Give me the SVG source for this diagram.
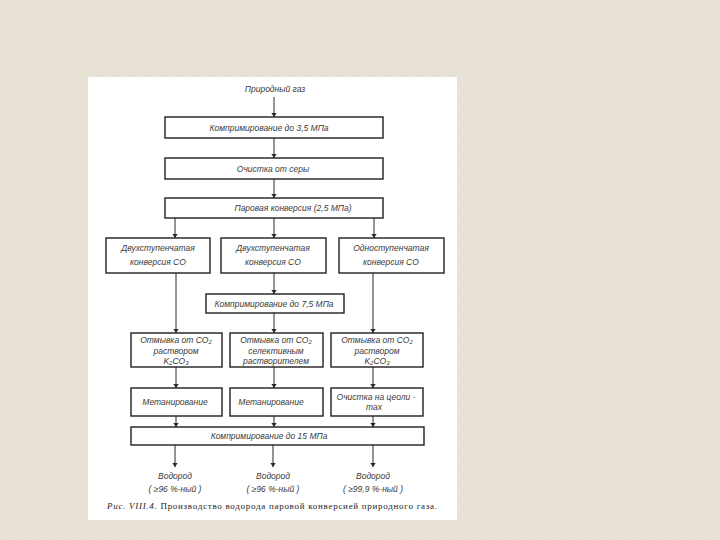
<svg xmlns="http://www.w3.org/2000/svg" width="720" height="540" viewBox="0 0 720 540">
  <defs>
    <pattern id="tex" width="16" height="16" patternUnits="userSpaceOnUse">
      <rect width="16" height="16" fill="#e8e2d6"/>
      <path d="M2 14 L8 8 M10 6 L14 2" stroke="#e0d9cb" stroke-width="1"/>
      <path d="M1 1 L5 5 M9 11 L13 15" stroke="#eee9df" stroke-width="1"/>
    </pattern>
    <marker id="arr" viewBox="0 0 6 10" refX="6" refY="5" markerWidth="4" markerHeight="7" markerUnits="userSpaceOnUse" orient="auto">
      <path d="M0 1 L6 5 L0 9 Z" fill="#2a2a2a"/>
    </marker>
    <style>
      .box { fill: #ffffff; stroke: #1e1e1e; stroke-width: 1.4; }
      .t { font-family: "Liberation Sans", "DejaVu Sans", sans-serif; font-style: italic; font-size: 8.5px; fill: #3a3a3a; text-anchor: middle; }
      .c { stroke: #2a2a2a; stroke-width: 1; fill: none; marker-end: url(#arr); }
      .cap { font-family: "Liberation Serif", "DejaVu Serif", serif; font-size: 9px; fill: #242424; }
    </style>
  </defs>

  <rect width="720" height="540" fill="url(#tex)"/>
  <rect x="88" y="77" width="369" height="443" fill="#ffffff"/>

  <g id="connectors">
    <line class="c" x1="274" y1="97" x2="274" y2="117"/>
    <line class="c" x1="274" y1="138" x2="274" y2="158"/>
    <line class="c" x1="274" y1="179" x2="274" y2="198"/>
    <line class="c" x1="175" y1="218" x2="175" y2="238"/>
    <line class="c" x1="274" y1="218" x2="274" y2="238"/>
    <line class="c" x1="374" y1="218" x2="374" y2="238"/>
    <line class="c" x1="176" y1="273" x2="176" y2="333"/>
    <line class="c" x1="274" y1="273" x2="274" y2="294"/>
    <line class="c" x1="274" y1="313" x2="274" y2="333"/>
    <line class="c" x1="373" y1="273" x2="373" y2="333"/>
    <line class="c" x1="176" y1="367" x2="176" y2="388"/>
    <line class="c" x1="274" y1="367" x2="274" y2="388"/>
    <line class="c" x1="373" y1="367" x2="373" y2="388"/>
    <line class="c" x1="176" y1="416" x2="176" y2="427"/>
    <line class="c" x1="274" y1="416" x2="274" y2="427"/>
    <line class="c" x1="373" y1="416" x2="373" y2="427"/>
    <line class="c" x1="175" y1="445" x2="175" y2="467"/>
    <line class="c" x1="273" y1="445" x2="273" y2="467"/>
    <line class="c" x1="373" y1="445" x2="373" y2="467"/>
  </g>

  <g id="n-gas">
    <text class="t" x="275" y="92">Природный газ</text>
  </g>
  <g id="n-comp35">
    <rect class="box" x="165" y="117" width="218" height="21"/>
    <text class="t" x="269" y="130.5">Компримирование до 3,5 МПа</text>
  </g>
  <g id="n-sulfur">
    <rect class="box" x="165" y="158" width="218" height="21"/>
    <text class="t" x="273" y="171.5">Очистка от серы</text>
  </g>
  <g id="n-steam">
    <rect class="box" x="165" y="198" width="218" height="20"/>
    <text class="t" x="293" y="211">Паровая конверсия (2,5 МПа)</text>
  </g>
  <g id="n-co-a">
    <rect class="box" x="106" y="238" width="104" height="35"/>
    <text class="t" x="158" y="251">Двухступенчатая</text>
    <text class="t" x="158" y="265">конверсия CO</text>
  </g>
  <g id="n-co-b">
    <rect class="box" x="221" y="238" width="105" height="35"/>
    <text class="t" x="273" y="251">Двухступенчатая</text>
    <text class="t" x="273" y="265">конверсия CO</text>
  </g>
  <g id="n-co-c">
    <rect class="box" x="339" y="238" width="105" height="35"/>
    <text class="t" x="391" y="251">Одноступенчатая</text>
    <text class="t" x="391" y="265">конверсия CO</text>
  </g>
  <g id="n-comp75">
    <rect class="box" x="206" y="294" width="138" height="19"/>
    <text class="t" x="274" y="306.5">Компримирование до 7,5 МПа</text>
  </g>
  <g id="n-wash-a">
    <rect class="box" x="131" y="333" width="91" height="34"/>
    <text class="t" x="176" y="342.5">Отмывка от CO<tspan font-size="6" dy="1.5">2</tspan></text>
    <text class="t" x="176" y="353.5">раствором</text>
    <text class="t" x="176" y="363.5">K<tspan font-size="6" dy="1.5">2</tspan><tspan dy="-1.5">CO</tspan><tspan font-size="6" dy="1.5">3</tspan></text>
  </g>
  <g id="n-wash-b">
    <rect class="box" x="230" y="333" width="93" height="34"/>
    <text class="t" x="276" y="342.5">Отмывка от CO<tspan font-size="6" dy="1.5">2</tspan></text>
    <text class="t" x="276" y="353.5">селективным</text>
    <text class="t" x="276" y="363.5">растворителем</text>
  </g>
  <g id="n-wash-c">
    <rect class="box" x="331" y="333" width="92" height="34"/>
    <text class="t" x="377" y="342.5">Отмывка от CO<tspan font-size="6" dy="1.5">2</tspan></text>
    <text class="t" x="377" y="353.5">раствором</text>
    <text class="t" x="377" y="363.5">K<tspan font-size="6" dy="1.5">2</tspan><tspan dy="-1.5">CO</tspan><tspan font-size="6" dy="1.5">3</tspan></text>
  </g>
  <g id="n-meth-a">
    <rect class="box" x="131" y="388" width="91" height="28"/>
    <text class="t" x="175" y="405">Метанирование</text>
  </g>
  <g id="n-meth-b">
    <rect class="box" x="230" y="388" width="93" height="28"/>
    <text class="t" x="271" y="405">Метанирование</text>
  </g>
  <g id="n-zeol">
    <rect class="box" x="331" y="388" width="92" height="28"/>
    <text class="t" x="376" y="399.5">Очистка на цеоли -</text>
    <text class="t" x="374" y="410">тах</text>
  </g>
  <g id="n-comp15">
    <rect class="box" x="131" y="427" width="293" height="18"/>
    <text class="t" x="269" y="439">Компримирование до 15 МПа</text>
  </g>
  <g id="n-h2-a">
    <text class="t" x="175" y="479">Водород</text>
    <text class="t" x="175" y="492">( ≥96 %-ный )</text>
  </g>
  <g id="n-h2-b">
    <text class="t" x="273" y="479">Водород</text>
    <text class="t" x="273" y="492">( ≥96 %-ный )</text>
  </g>
  <g id="n-h2-c">
    <text class="t" x="373" y="479">Водород</text>
    <text class="t" x="373" y="492">( ≥99,9 %-ный )</text>
  </g>
  <g id="caption">
    <text class="cap" x="107" y="509" textLength="330" lengthAdjust="spacing"><tspan font-style="italic">Рис. VIII.4.</tspan> Производство водорода паровой конверсией природного газа.</text>
  </g>
</svg>
